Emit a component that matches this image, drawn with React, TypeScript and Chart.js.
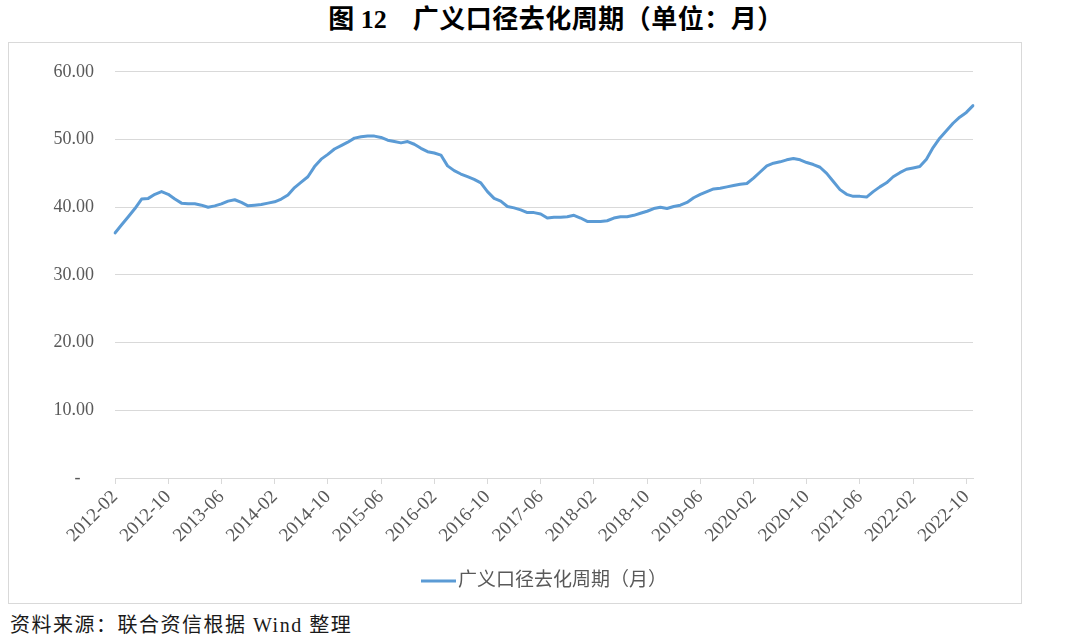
import React, { useEffect, useRef } from "react";
import { Chart, registerables } from "chart.js";

Chart.register(...registerables);

// Monthly categories: 2012-02 .. 2022-11
const startYear = 2012;
const startMonth = 2;

// 广义口径去化周期（月）
const cycleValues = [
  36.2, 37.4, 38.6, 39.8, 41.2, 41.3, 41.9, 42.3, 41.9, 41.2,
  40.6, 40.5, 40.5, 40.3, 40.0, 40.2, 40.5, 40.9, 41.1, 40.7,
  40.2, 40.3, 40.4, 40.6, 40.8, 41.2, 41.8, 42.9, 43.7, 44.5,
  46.0, 47.1, 47.8, 48.6, 49.1, 49.6, 50.2, 50.4, 50.5, 50.5,
  50.3, 49.9, 49.7, 49.5, 49.7, 49.3, 48.7, 48.2, 48.0, 47.7,
  46.1, 45.4, 44.9, 44.5, 44.1, 43.6, 42.3, 41.3, 40.9, 40.1,
  39.9, 39.6, 39.2, 39.2, 39.0, 38.4, 38.5, 38.5, 38.6, 38.8,
  38.4, 37.9, 37.9, 37.9, 38.0, 38.4, 38.6, 38.6, 38.8, 39.1,
  39.4, 39.8, 40.0, 39.8, 40.1, 40.3, 40.7, 41.4, 41.9, 42.3,
  42.7, 42.8, 43.0, 43.2, 43.4, 43.5, 44.3, 45.2, 46.1, 46.5,
  46.7, 47.0, 47.2, 47.0, 46.6, 46.3, 45.9, 45.0, 43.8, 42.6,
  41.9, 41.6, 41.6, 41.5, 42.3, 43.0, 43.6, 44.5, 45.1, 45.6,
  45.8, 46.0, 47.1, 48.8, 50.2, 51.3, 52.4, 53.3, 54.0, 55.0,
];

const xTickLabels = [
  "2012-02", "2012-10", "2013-06", "2014-02", "2014-10", "2015-06",
  "2016-02", "2016-10", "2017-06", "2018-02", "2018-10", "2019-06",
  "2020-02", "2020-10", "2021-06", "2022-02", "2022-10",
];

const yTickValues = [0, 10, 20, 30, 40, 50, 60];
const yTickLabels = ["-   ", "10.00", "20.00", "30.00", "40.00", "50.00", "60.00"];

const seriesLabel = "广义口径去化周期（月）";
const titleNumber = "图 12";
const titleText = "广义口径去化周期（单位：月）";
const sourceText = "资料来源：联合资信根据 Wind 整理";

const categories = cycleValues.map((_, i) => {
  const m = startMonth - 1 + i;
  const y = startYear + Math.floor(m / 12);
  const mm = (m % 12) + 1;
  return `${y}-${mm < 10 ? "0" + mm : mm}`;
});

const FONT = '"Liberation Serif", "Noto Sans CJK SC", serif';
const LINE_COLOR = "#5b9bd5";
const TEXT_COLOR = "#595959";
const GRID_COLOR = "#d9d9d9";

const legendPlugin = {
  id: "customLegend",
  afterDraw(chart: any) {
    const { ctx, chartArea } = chart;
    const ds = chart.data.datasets[0];
    ctx.save();
    ctx.font = `19px ${FONT}`;
    const text = ds.label as string;
    const tw = ctx.measureText(text).width;
    const lineW = 35;
    const gap = 2;
    const total = lineW + gap + tw;
    const cx = (chartArea.left + chartArea.right) / 2;
    const x0 = cx - total / 2;
    const y = chartArea.bottom + 103;
    ctx.strokeStyle = ds.borderColor;
    ctx.lineWidth = 3;
    ctx.beginPath();
    ctx.moveTo(x0, y);
    ctx.lineTo(x0 + lineW, y);
    ctx.stroke();
    ctx.fillStyle = TEXT_COLOR;
    ctx.textBaseline = "middle";
    ctx.textAlign = "left";
    ctx.fillText(text, x0 + lineW + gap, y);
    ctx.restore();
  },
};

function LineChart() {
  const ref = useRef<HTMLCanvasElement | null>(null);
  useEffect(() => {
    if (!ref.current) return;
    const chart = new Chart(ref.current, {
      type: "line",
      data: {
        labels: categories,
        datasets: [
          {
            label: seriesLabel,
            data: cycleValues,
            borderColor: LINE_COLOR,
            backgroundColor: LINE_COLOR,
            borderWidth: 3,
            pointRadius: 0,
            pointHoverRadius: 0,
            tension: 0,
            borderJoinStyle: "round",
            borderCapStyle: "round",
            fill: false,
          },
        ],
      },
      options: {
        animation: false,
        responsive: false,
        maintainAspectRatio: false,
        layout: { padding: { left: 0, right: 48, top: 24, bottom: 0 } },
        plugins: {
          legend: { display: false },
          tooltip: { enabled: false },
          title: { display: false },
        },
        scales: {
          x: {
            type: "category",
            offset: false,
            border: { display: true, color: GRID_COLOR, width: 1 },
            grid: {
              drawOnChartArea: false,
              drawTicks: true,
              tickLength: 6,
              tickColor: (c: any) =>
                xTickLabels.includes(categories[c.index]) ? GRID_COLOR : "rgba(0,0,0,0)",
            },
            ticks: {
              autoSkip: false,
              maxRotation: 45,
              minRotation: 45,
              padding: 2,
              color: TEXT_COLOR,
              font: { family: FONT, size: 19 },
              callback: (_v: any, idx: number) =>
                xTickLabels.includes(categories[idx]) ? categories[idx] : "",
            },
            afterFit: (s: any) => {
              s.height = 125;
            },
          },
          y: {
            min: 0,
            max: 60,
            border: { display: false },
            grid: { color: GRID_COLOR, lineWidth: 1, drawTicks: false },
            afterBuildTicks: (s: any) => {
              s.ticks = yTickValues.map((v) => ({ value: v }));
            },
            ticks: {
              padding: 21,
              color: TEXT_COLOR,
              font: { family: FONT, size: 18 },
              callback: (v: any) => {
                const i = yTickValues.indexOf(Number(v));
                return i >= 0 ? yTickLabels[i] : "";
              },
            },
            afterFit: (s: any) => {
              s.width = 106;
            },
          },
        },
      },
      plugins: [legendPlugin],
    });
    return () => chart.destroy();
  }, []);
  return (
    <canvas
      ref={ref}
      width={1012}
      height={563}
      style={{ position: "absolute", left: 0, top: -3, display: "block", width: 1012, height: 563 }}
    />
  );
}

export default function App() {
  return (
    <div
      style={{
        position: "absolute",
        left: 0,
        top: 0,
        width: 1080,
        height: 644,
        background: "#ffffff",
        overflow: "hidden",
      }}
    >
      <div
        style={{
          position: "absolute",
          left: 556,
          top: 5,
          transform: "translateX(-50%)",
          whiteSpace: "nowrap",
          fontFamily: FONT,
          fontWeight: "bold",
          fontSize: 26,
          lineHeight: "30px",
          color: "#000",
        }}
      >
        <span>{titleNumber}</span>
        <span style={{ marginLeft: 26, letterSpacing: 0.5 }}>{titleText}</span>
      </div>
      <div
        style={{
          position: "absolute",
          left: 8,
          top: 42,
          width: 1014,
          height: 562,
          boxSizing: "border-box",
          border: `1px solid ${GRID_COLOR}`,
        }}
      >
        <LineChart />
      </div>
      <div
        style={{
          position: "absolute",
          left: 10,
          top: 612,
          whiteSpace: "nowrap",
          fontFamily: FONT,
          fontSize: 20,
          letterSpacing: 1.5,
          lineHeight: "26px",
          color: "#1a1a1a",
        }}
      >
        {sourceText}
      </div>
    </div>
  );
}
